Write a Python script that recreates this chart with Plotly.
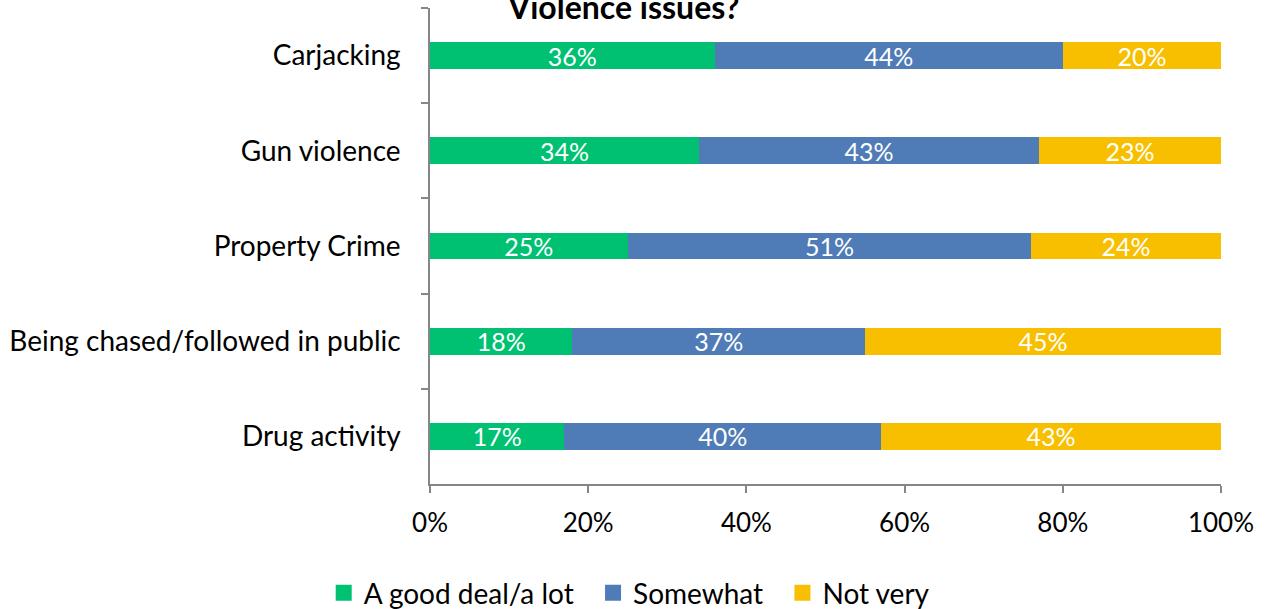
import plotly.graph_objects as go

categories = ["Carjacking", "Gun violence", "Property Crime",
              "Being chased/followed in public", "Drug activity"]
good_deal = [36, 34, 25, 18, 17]
somewhat = [44, 43, 51, 37, 40]
not_very = [20, 23, 24, 45, 43]
series_names = ["A good deal/a lot", "Somewhat", "Not very"]
colors = ["#00C172", "#4F7CB6", "#F8BF00"]
x_ticks = [0, 20, 40, 60, 80, 100]
x_tick_labels = ["0%", "20%", "40%", "60%", "80%", "100%"]
title_text = "<b>Violence issues?</b>"

FONT = "Lato"
PAD = "\u00a0\u00a0"

fig = go.Figure()
for i, (name, vals, col) in enumerate(zip(series_names, [good_deal, somewhat, not_very], colors)):
    fig.add_trace(go.Bar(
        y=categories, x=vals, name=name, orientation="h",
        marker=dict(color=col, line=dict(width=0)),
        text=[f"{v}%" for v in vals], textposition="inside",
        insidetextanchor="middle", constraintext="none",
        textfont=dict(color="white", size=25, family=FONT),
        hoverinfo="skip", showlegend=False,
    ))
    # legend entry with a larger square swatch
    fig.add_trace(go.Scatter(
        x=[None], y=[None], mode="markers",
        name=name + (PAD if i < len(series_names) - 1 else ""),
        marker=dict(symbol="square", size=16, color=col),
        showlegend=True, hoverinfo="skip",
    ))

fig.update_layout(
    barmode="stack", bargap=0.72,
    width=1266, height=609,
    margin=dict(l=430, r=45, t=8, b=125, autoexpand=False),
    paper_bgcolor="white", plot_bgcolor="white",
    font=dict(family=FONT, size=24, color="black"),
    showlegend=True,
    legend=dict(orientation="h", x=0.497, xanchor="center", xref="container",
                y=0.026, yanchor="middle", yref="container",
                font=dict(size=28, family=FONT), itemsizing="trace",
                traceorder="normal", itemwidth=30,
                bgcolor="rgba(0,0,0,0)"),
    xaxis=dict(range=[0, 100], tickvals=x_ticks, ticktext=x_tick_labels,
               showgrid=False, zeroline=False, showline=True,
               linecolor="#868686", linewidth=1.5, ticks="outside",
               ticklen=7, tickcolor="#868686", tickwidth=1.5,
               tickfont=dict(size=26, family=FONT), ticklabelstandoff=8),
    yaxis=dict(autorange="reversed", categoryorder="array",
               categoryarray=categories, showgrid=False, zeroline=False,
               showline=True, linecolor="#868686", linewidth=1.5,
               ticks="outside", ticklen=7, tickcolor="#868686",
               tickwidth=1.5, tickson="boundaries",
               tickfont=dict(size=28, family=FONT), ticklabelstandoff=22),
    annotations=[dict(text=title_text, xref="paper", yref="paper",
                      x=0.244, y=1, xanchor="center", yanchor="middle",
                      yshift=2, showarrow=False,
                      font=dict(size=32, family=FONT, color="black"))],
)

fig.write_html("out.html",
               config={"displayModeBar": False},
               post_script="document.body.style.margin='0';document.body.style.overflow='hidden';")
